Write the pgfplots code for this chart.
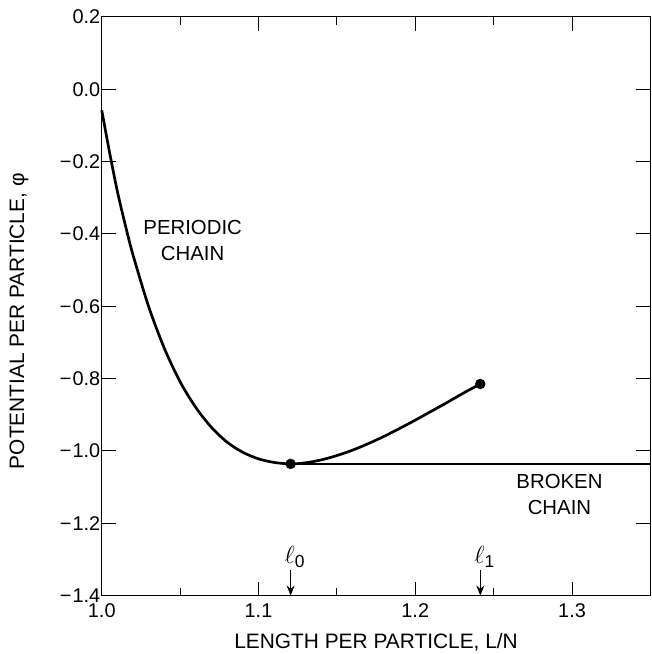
\documentclass[border=0pt]{standalone}
\usepackage{fontspec}
\setmainfont{Liberation Sans}
\usepackage{pgfplots}
\pgfplotsset{compat=1.18}
\usetikzlibrary{arrows.meta}

% periodic chain, phi(L/N)
\pgfplotstableread{
x y
1.000 -0.058
1.005 -0.175
1.010 -0.283
1.015 -0.375
1.020 -0.459
1.030 -0.602
1.040 -0.717
1.050 -0.809
1.060 -0.880
1.070 -0.935
1.080 -0.976
1.090 -1.004
1.100 -1.022
1.110 -1.032
1.1205 -1.036
1.130 -1.033
1.140 -1.025
1.150 -1.013
1.160 -0.998
1.170 -0.980
1.180 -0.960
1.190 -0.938
1.200 -0.915
1.210 -0.891
1.220 -0.867
1.230 -0.842
1.2415 -0.815
}\periodic

\pgfplotstableread{
x y
1.1205 -1.036
1.350 -1.036
}\broken

\begin{document}
\begin{tikzpicture}
\begin{axis}[
    name=ax,
    scale only axis,
    width=550bp, height=580bp,
    xmin=1.0, xmax=1.35,
    ymin=-1.4, ymax=0.2,
    xtick={1.0,1.1,1.2,1.3},
    xticklabels={1.0,1.1,1.2,1.3},
    minor xtick={1.05,1.15,1.25},
    ytick={-1.4,-1.2,-1.0,-0.8,-0.6,-0.4,-0.2,0.0,0.2},
    yticklabels={−\kern1bp1.4,−\kern1bp1.2,−\kern1bp1.0,−\kern1bp0.8,−\kern1bp0.6,−\kern1bp0.4,−\kern1bp0.2,0.0,0.2},
    tick align=inside,
    major tick length=14bp,
    minor tick length=8bp,
    every tick/.style={black, line width=1pt},
    axis line style={line width=1.1pt},
    tick label style={font=\fontsize{20}{22}\selectfont},
    label style={font=\fontsize{21}{24}\selectfont},
    xticklabel style={yshift=-5bp},
    yticklabel style={xshift=2bp},
    xlabel={LENGTH PER PARTICLE, L/N},
    ylabel={POTENTIAL PER PARTICLE, φ},
    xlabel style={yshift=-8bp},
    ylabel style={at={(axis description cs:-0.151,0.474)}, anchor=center},
    clip=false,
]
\addplot[black, line width=2.7pt, smooth] table {\periodic};
\addplot[black, line width=2.7pt] table {\broken};
\addplot[only marks, mark=*, mark size=5bp, black] coordinates {(1.1205,-1.036) (1.2415,-0.815)};

\draw[-{Stealth[length=10bp,width=8bp]}, line width=1.1pt] (axis cs:1.1205,-1.33) -- (axis cs:1.1205,-1.4);
\draw[-{Stealth[length=10bp,width=8bp]}, line width=1.1pt] (axis cs:1.2415,-1.33) -- (axis cs:1.2415,-1.4);
\node[font=\fontsize{25}{27}\selectfont] at (axis cs:1.1232,-1.293) {$\ell$\textsubscript{0}};
\node[font=\fontsize{25}{27}\selectfont] at (axis cs:1.2442,-1.293) {$\ell$\textsubscript{1}};

\node[align=center, font=\fontsize{20.5}{26}\selectfont] at (axis cs:1.058,-0.418) {PERIODIC\\CHAIN};
\node[align=center, font=\fontsize{20.5}{26}\selectfont] at (axis cs:1.292,-1.121) {BROKEN\\CHAIN};
\end{axis}
% page margins as in the reference
\path ([shift={(-102bp,-57bp)}]ax.south west) rectangle ([shift={(1bp,17bp)}]ax.north east);
\end{tikzpicture}
\end{document}
